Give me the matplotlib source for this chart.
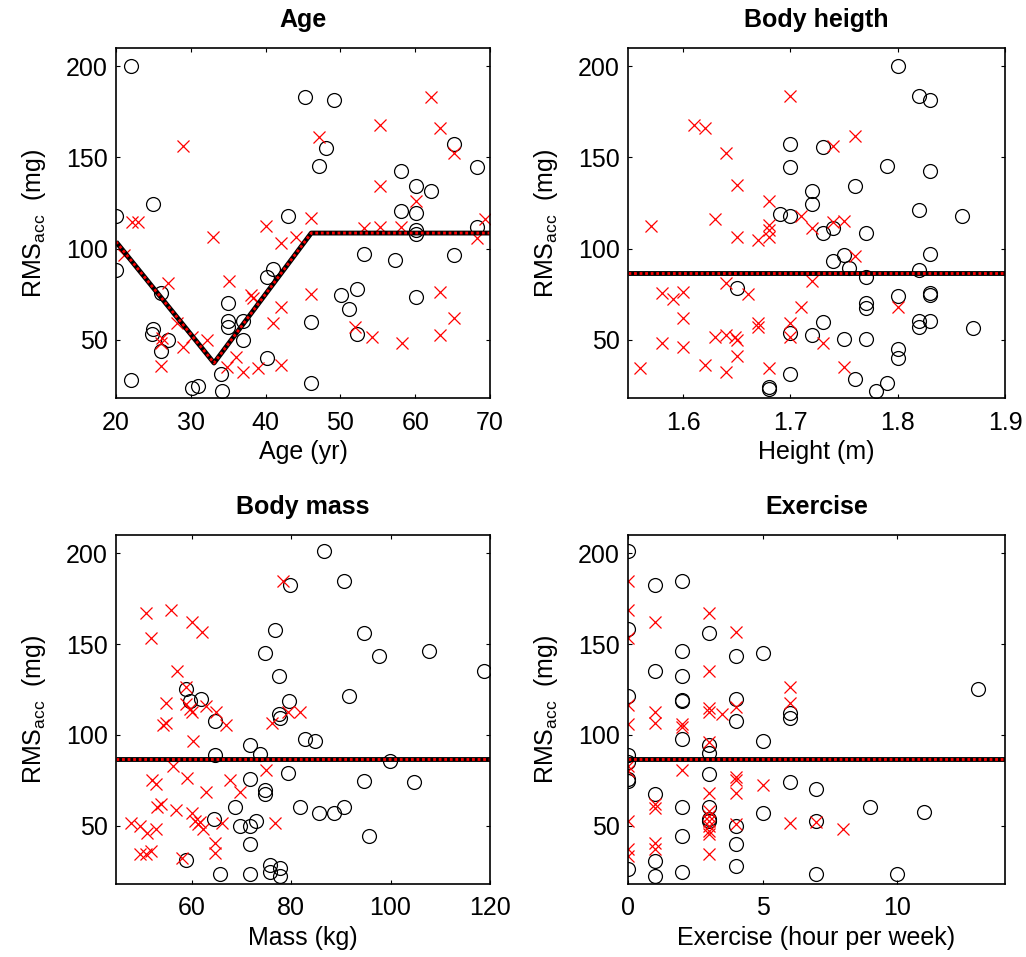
import matplotlib
matplotlib.use("Agg")
import matplotlib.pyplot as plt

plt.rcParams['font.family'] = ['Liberation Sans', 'DejaVu Sans']
plt.rcParams['mathtext.default'] = 'regular'

# ---- Age panel ----
age_o = [22, 20, 20, 22, 25, 24.8, 25, 26, 26.9, 26, 30.1, 30.9, 34, 34.1, 35, 35, 35, 37, 37,
         40.2, 41, 40.2, 43, 45.2, 49.2, 48.1, 47.2, 58.1, 60.1, 62.1, 65.2, 68.2, 58.1, 60.1,
         68.2, 60.1, 60.1, 53.2, 57.3, 65.2, 52.2, 50.1, 51.2, 60.1, 46.1, 52.2, 46.1]
rms_age_o = [200, 118, 88, 28, 124.5, 53, 56, 75.6, 50, 44, 23.4, 24.6, 31, 21.8, 70, 60, 57, 60, 50,
             84.5, 89, 40, 118, 183.4, 181.6, 155, 145.3, 142.6, 134.4, 131.7, 157.4, 145, 120.7, 119.6,
             111.9, 110, 108, 97, 93.6, 96.5, 77.7, 74.4, 66.8, 73.4, 59.7, 53, 26.1]
age_x = [29, 22.2, 23, 40.1, 32.9, 42.1, 62.1, 55.3, 63.3, 47.2, 65.2, 55.3, 60.1, 46.1, 69.3,
         53.2, 55.3, 58.1, 44.1, 68.2, 21, 27, 26.2, 26, 26, 28.2, 29, 30.2, 32.1, 35.1, 34.9,
         36.1, 37, 38, 38.3, 39, 41, 42.1, 42.1, 46.1, 52, 54.2, 58.2, 63.3, 65.2, 63.3]
rms_age_x = [156.3, 114.6, 114.6, 112.5, 106.3, 103, 183.3, 167.9, 166.2, 161.3, 152.4, 134.4, 126.1,
             116.8, 116.3, 111.5, 112, 112, 106.5, 106, 96.5, 81, 50.8, 48, 35.6, 59, 46, 51.5, 49.7,
             82.1, 35, 40.5, 32.2, 74.5, 72.9, 34.4, 59, 68, 36, 75, 57, 51.6, 48, 76, 61.8, 52.5]
age_fit = [20, 33.1, 46.1, 70]
rms_age_fit = [103.7, 37.2, 108.5, 108.5]

# ---- Height panel ----
height_o = [1.70, 1.70, 1.69, 1.70, 1.80, 1.82, 1.83, 1.73, 1.79, 1.83, 1.76, 1.72, 1.72, 1.82, 1.86,
            1.73, 1.74, 1.77, 1.83, 1.74, 1.75, 1.755, 1.77, 1.82, 1.80, 1.83, 1.83, 1.77, 1.77, 1.73,
            1.72, 1.75, 1.77, 1.82, 1.82, 1.83, 1.87, 1.80, 1.80, 1.76, 1.79, 1.78, 1.65, 1.70, 1.70,
            1.68, 1.68]
rms_height_o = [157.5, 144.5, 119, 118, 200, 183.5, 181.7, 155.5, 145.4, 142.7, 134.5, 131.7, 124.6,
                120.9, 118, 108.5, 111.2, 108.8, 97.1, 93.4, 96.5, 89.2, 84.6, 88.3, 74, 75.8, 74.6,
                70.3, 67.2, 59.9, 52.6, 50.2, 50.2, 60.3, 57.1, 60.3, 56.3, 44.7, 40.1, 28.2, 26, 21.8,
                78.2, 53.5, 31, 24.2, 23]
height_x = [1.70, 1.61, 1.62, 1.64, 1.65, 1.68, 1.63, 1.57, 1.68, 1.68, 1.71, 1.65, 1.67, 1.68, 1.74,
            1.76, 1.72, 1.74, 1.75, 1.56, 1.58, 1.59, 1.60, 1.60, 1.58, 1.60, 1.62, 1.64, 1.63, 1.64,
            1.648, 1.65, 1.65, 1.64, 1.66, 1.67, 1.67, 1.68, 1.70, 1.70, 1.71, 1.76, 1.72, 1.80, 1.73,
            1.75]
rms_height_x = [183.5, 168, 166, 152.4, 134.6, 126.2, 116.3, 112.5, 113, 110, 117.6, 106.6, 104.8,
                106.6, 156, 161.5, 111.5, 114.3, 115.2, 34.3, 75.5, 72.2, 76.4, 61.8, 48, 46.2, 36.1,
                32.4, 51.3, 52.6, 51.3, 49.8, 41, 81, 75.1, 59, 57.1, 34.3, 59, 51.3, 68.1, 96, 82.4,
                68.1, 48, 35.2]
mean_level = 86.8

# ---- Mass panel ----
mass_o = [58.9, 59.7, 61.8, 64.7, 64.7, 76.8, 74.8, 77.6, 79.6, 77.6, 77.8, 71.7, 73.7, 79.4, 71.7,
          74.8, 74.8, 68.7, 64.5, 69.7, 71.7, 72.9, 71.7, 58.9, 65.7, 71.7, 75.8, 75.8, 77.8, 77.8,
          86.7, 90.7, 94.7, 97.7, 107.7, 118.7, 91.7, 82.7, 84.8, 99.8, 94.7, 104.8, 81.8, 85.7, 88.7,
          90.7, 95.7, 79.8]
rms_mass_o = [125.1, 118.7, 119.6, 107.6, 89, 157.7, 145.2, 132.3, 118.5, 111.7, 109.5, 94.2, 89.6,
              78.9, 75.8, 69.9, 67.5, 60.1, 53.7, 50, 50, 52.8, 39.9, 31.2, 23.3, 23.3, 28.3, 24.6, 27,
              22.4, 201, 184.4, 156.2, 143.5, 146.1, 135, 121.4, 97.5, 96.6, 85.4, 74.9, 73.9, 60.1,
              56.8, 57.3, 60.1, 44.5, 182.5]
mass_x = [50.9, 55.8, 60, 62, 51.8, 57, 58.9, 54.8, 58.9, 59.7, 60, 62.9, 65, 67, 54.2, 54.8, 60.2,
          76.1, 78.4, 56.2, 52, 52.8, 59, 67.8, 62.9, 69.7, 74.9, 53, 53.8, 56.8, 60, 60.7, 61.7, 62.3,
          61.3, 66.2, 47.8, 49.6, 51, 52.8, 76.8, 64.7, 64.7, 49.6, 50.8, 51.8, 58, 81.8, 79.4]
rms_mass_x = [167, 168.8, 162.3, 156.8, 153.5, 135, 126.4, 117.8, 117.2, 114.5, 112.6, 115.9, 112.6,
              105.2, 105.2, 106.7, 96.4, 106.7, 184.4, 82.8, 75.4, 73, 76.1, 75.2, 68.4, 68.4, 80.9,
              60.1, 62, 58.8, 57.3, 52.8, 52.2, 48.2, 50.9, 51.8, 51.8, 50, 46.3, 48.2, 51.8, 40.8,
              35.2, 34.4, 34.4, 36.2, 32.5, 112.6, 112.6]

# ---- Exercise panel ----
exer_o = [0, 0, 0, 0, 0, 0, 0, 0,
          1, 1, 1, 1, 1,
          2, 2, 2, 2, 2, 2, 2, 2, 2,
          3, 3, 3, 3, 3, 3, 3,
          4, 4, 4, 4, 4, 4,
          5, 5, 5,
          6, 6, 6,
          7, 7, 7,
          9, 10, 11, 13]
rms_exer_o = [201, 158.1, 121.3, 89.1, 85, 75.8, 74.9, 26.4,
              182.6, 135.1, 67.5, 30.7, 22.4,
              184.4, 146.1, 132.3, 119.1, 118.5, 97.5, 60.1, 44.5, 24.6,
              156.2, 94.2, 89.9, 78.6, 60.1, 54, 52.5,
              143.5, 120, 107.6, 50, 39.9, 27.9,
              145.2, 96.6, 56.8,
              112, 109.5, 73.9,
              70.3, 52.8, 23.3,
              60.1, 23.3, 57.7, 125.1]
exer_x = [0, 0, 0, 0, 0, 0, 0, 0, 0, 0,
          1, 1, 1, 1, 1, 1, 1,
          2, 2, 2,
          3, 3, 3, 3, 3, 3, 3, 3, 3, 3, 3, 3, 3, 3.5,
          4, 4, 4, 4, 4, 4,
          5, 6, 6, 6, 7, 8]
rms_exer_x = [184.4, 168.8, 153.1, 116.3, 106.2, 83.1, 80.4, 52.8, 37.1, 33.4,
              162.3, 112.6, 106.7, 62, 59.6, 40.8, 37.1,
              106.2, 104.3, 80.9,
              167, 135.1, 114.8, 112.6, 96, 68.1, 58.3, 52.8, 50, 47.2, 45.4, 34.4, 55.5, 111.7,
              156.8, 115.4, 76.7, 75.4, 68.1, 50.9,
              72.5, 126.4, 117.8, 51.8, 52.2, 48.2]

ylab = 'RMS$_{acc}$  (mg)'
fs = 18

fig = plt.figure(figsize=(10.26, 9.57), dpi=100)
pos = [(0.1131, 0.5841, 0.3645, 0.3657), (0.6121, 0.5841, 0.3674, 0.3657),
       (0.1131, 0.0763, 0.3645, 0.3647), (0.6121, 0.0763, 0.3674, 0.3647)]


def panel(p, xo, yo, xx, yx, fx, fy, title, xlabel, xlim, xticks):
    ax = fig.add_axes(p)
    ax.plot(xo, yo, 'o', mfc='none', mec='black', ms=10, mew=0.9, ls='none')
    ax.plot(xx, yx, 'x', color='red', ms=8, mew=0.9, ls='none')
    ax.plot(fx, fy, color='black', lw=3.5, solid_capstyle='butt')
    ax.plot(fx, fy, color='red', lw=2, ls=(0, (1, 1)))
    ax.set_xlim(xlim)
    ax.set_ylim(18, 210)
    ax.set_xticks(xticks)
    ax.set_yticks([50, 100, 150, 200])
    ax.tick_params(direction='in', length=3, top=True, right=True, labelsize=fs)
    ax.tick_params(axis='x', pad=9)
    ax.tick_params(axis='y', pad=6)
    for s in ax.spines.values():
        s.set_linewidth(1.2)
    ax.set_title(title, fontsize=fs, fontweight='bold', pad=15)
    ax.set_xlabel(xlabel, fontsize=fs, labelpad=4)
    ax.set_ylabel(ylab, fontsize=fs, labelpad=13)
    return ax


panel(pos[0], age_o, rms_age_o, age_x, rms_age_x, age_fit, rms_age_fit,
      'Age', 'Age (yr)', (20, 70), [20, 30, 40, 50, 60, 70])
panel(pos[1], height_o, rms_height_o, height_x, rms_height_x, [1.5485, 1.9], [mean_level] * 2,
      'Body heigth', 'Height (m)', (1.5485, 1.9), [1.6, 1.7, 1.8, 1.9])
panel(pos[2], mass_o, rms_mass_o, mass_x, rms_mass_x, [44.8, 120], [mean_level] * 2,
      'Body mass', 'Mass (kg)', (44.8, 120), [60, 80, 100, 120])
panel(pos[3], exer_o, rms_exer_o, exer_x, rms_exer_x, [0, 14], [mean_level] * 2,
      'Exercise', 'Exercise (hour per week)', (0, 14), [0, 5, 10])

fig.savefig('out.png', dpi=100)
